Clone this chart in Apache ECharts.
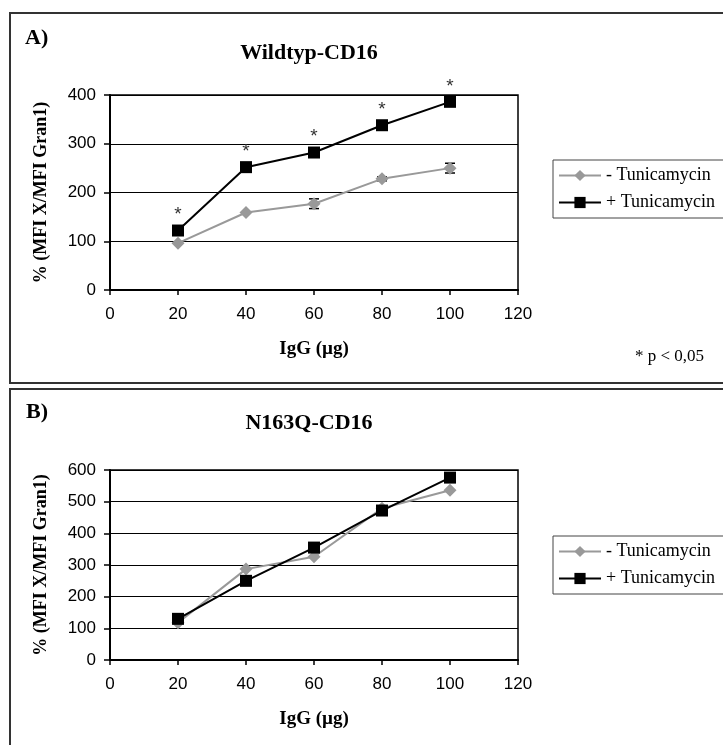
<!DOCTYPE html>
<html>
<head>
<meta charset="utf-8">
<script src="https://cdn.jsdelivr.net/npm/echarts@6/dist/echarts.min.js"></script>
<style>
html,body{margin:0;padding:0;background:#fff;}
#chart{width:723px;height:745px;}
</style>
</head>
<body>
<div id="chart"></div>
<script>
// Data
const xValues = [20, 40, 60, 80, 100];
const aMinus = [96, 159, 177, 228, 250];
const aPlus = [122, 252, 282, 338, 386];
const aMinusErr = [0, 0, 10, 4, 10];
const bMinus = [118, 287, 326, 479, 536];
const bPlus = [130, 250, 355, 472, 576];
const xTicks = [0, 20, 40, 60, 80, 100, 120];
const seriesNames = ['- Tunicamycin', '+ Tunicamycin'];

const SERIF = 'Liberation Serif';
const SANS = 'Liberation Sans';
const GRAY = '#999999';

function pairs(xs, ys) { return xs.map((x, i) => [x, ys[i]]); }

function xAxis(gi) {
  return {
    type: 'value', gridIndex: gi, min: xTicks[0], max: xTicks[xTicks.length - 1], interval: 20,
    name: 'IgG (µg)', nameLocation: 'middle', nameGap: 50,
    nameTextStyle: { fontFamily: SERIF, fontWeight: 'bold', fontSize: 19, color: '#000' },
    axisLine: { show: true, lineStyle: { color: '#000', width: 2 } },
    axisTick: { show: true, inside: false, length: 5, lineStyle: { color: '#000', width: 1.5 } },
    axisLabel: { margin: 16, fontFamily: SANS, fontSize: 17, color: '#000' },
    splitLine: { show: false }
  };
}
function yAxis(gi, max) {
  return {
    type: 'value', gridIndex: gi, min: 0, max: max, interval: 100,
    name: '% (MFI X/MFI Gran1)', nameLocation: 'middle', nameGap: 60,
    nameTextStyle: { fontFamily: SERIF, fontWeight: 'bold', fontSize: 18, color: '#000' },
    axisLine: { show: true, lineStyle: { color: '#000', width: 2 } },
    axisTick: { show: true, inside: false, length: 6, lineStyle: { color: '#000', width: 1.5 } },
    axisLabel: { margin: 14, fontFamily: SANS, fontSize: 17, color: '#000' },
    splitLine: { show: true, lineStyle: { color: '#000', width: 1 } }
  };
}
function legend(top) {
  return {
    data: seriesNames, orient: 'vertical', left: 553, top: top,
    itemWidth: 42, itemHeight: 14, itemGap: 9,
    padding: [6.5, 40, 6.5, 5],
    borderColor: '#444', borderWidth: 1, backgroundColor: '#fff',
    selectedMode: false,
    textStyle: { fontFamily: SERIF, fontSize: 18, color: '#000' }
  };
}
function minusSeries(gi, ys) {
  return {
    name: seriesNames[0], type: 'line', xAxisIndex: gi, yAxisIndex: gi,
    data: pairs(xValues, ys), symbol: 'diamond', symbolSize: 13,
    lineStyle: { color: GRAY, width: 2 }, itemStyle: { color: GRAY }, z: 3
  };
}
function plusSeries(gi, ys, stars) {
  return {
    name: seriesNames[1], type: 'line', xAxisIndex: gi, yAxisIndex: gi,
    data: pairs(xValues, ys), symbol: 'rect', symbolSize: 12,
    lineStyle: { color: '#000', width: 2 }, itemStyle: { color: '#000' }, z: 4,
    label: stars ? { show: true, position: 'top', distance: 0, formatter: '*', fontFamily: SANS, fontSize: 19, color: '#333' } : { show: false }
  };
}

const errData = xValues.map((x, i) => [x, aMinus[i], aMinusErr[i]]).filter(d => d[2] > 0);

const option = {
  animation: false,
  backgroundColor: '#fff',
  grid: [
    { left: 110, top: 95, width: 408, height: 195, show: true, borderColor: '#000', borderWidth: 1.5, backgroundColor: 'transparent' },
    { left: 110, top: 470, width: 408, height: 190, show: true, borderColor: '#000', borderWidth: 1.5, backgroundColor: 'transparent' }
  ],
  xAxis: [xAxis(0), xAxis(1)],
  yAxis: [yAxis(0, 400), yAxis(1, 600)],
  legend: [legend(160), legend(536)],
  series: [
    {
      type: 'custom', xAxisIndex: 0, yAxisIndex: 0, data: errData, z: 2,
      renderItem: function (params, api) {
        const x = api.value(0), y = api.value(1), e = api.value(2);
        const t = api.coord([x, y + e]);
        const b = api.coord([x, y - e]);
        const s = { stroke: '#000', lineWidth: 1.5 };
        return {
          type: 'group', children: [
            { type: 'line', shape: { x1: t[0], y1: t[1], x2: b[0], y2: b[1] }, style: s },
            { type: 'line', shape: { x1: t[0] - 5, y1: t[1], x2: t[0] + 5, y2: t[1] }, style: s },
            { type: 'line', shape: { x1: b[0] - 5, y1: b[1], x2: b[0] + 5, y2: b[1] }, style: s }
          ]
        };
      }
    },
    minusSeries(0, aMinus),
    plusSeries(0, aPlus, true),
    minusSeries(1, bMinus),
    plusSeries(1, bPlus, false)
  ],
  graphic: [
    { type: 'rect', shape: { x: 10, y: 13, width: 730, height: 370 }, style: { fill: 'none', stroke: '#333', lineWidth: 2 }, z: 0 },
    { type: 'rect', shape: { x: 10, y: 389, width: 730, height: 400 }, style: { fill: 'none', stroke: '#333', lineWidth: 2 }, z: 0 },
    { type: 'text', style: { text: 'A)', x: 25, y: 38, font: 'bold 22px "Liberation Serif"', textVerticalAlign: 'middle', fill: '#000' } },
    { type: 'text', style: { text: 'Wildtyp-CD16', x: 309, y: 53, font: 'bold 22px "Liberation Serif"', textAlign: 'center', textVerticalAlign: 'middle', fill: '#000' } },
    { type: 'text', style: { text: '* p < 0,05', x: 635, y: 357, font: '17px "Liberation Serif"', textVerticalAlign: 'middle', fill: '#000' } },
    { type: 'text', style: { text: 'B)', x: 26, y: 412, font: 'bold 22px "Liberation Serif"', textVerticalAlign: 'middle', fill: '#000' } },
    { type: 'text', style: { text: 'N163Q-CD16', x: 309, y: 423, font: 'bold 22px "Liberation Serif"', textAlign: 'center', textVerticalAlign: 'middle', fill: '#000' } }
  ]
};

const chart = echarts.init(document.getElementById('chart'), null, { renderer: 'canvas' });
chart.setOption(option);
</script>
</body>
</html>
